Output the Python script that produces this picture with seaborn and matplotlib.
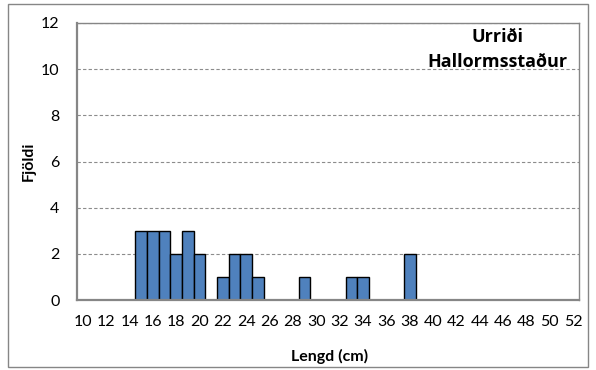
"""
Lengdardreifing urriða — Hallormsstaður
"""

import matplotlib.pyplot as plt
import matplotlib.patches as mpatches
import seaborn as sns
import pandas as pd
import numpy as np

# ─── Data ────────────────────────────────────────────────────────────────────
LENGTHS = list(range(10, 53))
COUNT_AT = {15: 3, 16: 3, 17: 3, 18: 2, 19: 3, 20: 2,
            22: 1, 23: 2, 24: 2, 25: 1, 29: 1, 33: 1, 34: 1, 38: 2}
COUNTS = [COUNT_AT.get(l, 0) for l in LENGTHS]
TICK_LABELS = [str(l) if l % 2 == 0 else "" for l in LENGTHS]

BAR_C  = "#4F81BD"
AXIS_C = "#868686"
GRID_C = "#8C8C8C"
TEXT_C = "#000000"

sns.set_style("white")
plt.rcParams["font.family"] = ["Lato", "DejaVu Sans"]

df = pd.DataFrame({"Lengd": [str(l) for l in LENGTHS], "Fjoldi": COUNTS})

fig = plt.figure(figsize=(5.96, 3.70), dpi=100)
fig.patch.set_facecolor("white")
ax = fig.add_axes([77 / 596, 70 / 370, 502 / 596, 277 / 370])

sns.barplot(data=df, x="Lengd", y="Fjoldi", order=df["Lengd"], color=BAR_C,
            width=1.0, saturation=1, edgecolor="black", linewidth=1.0, ax=ax)

ax.set_xlim(-0.5, len(LENGTHS) - 0.5)
ax.set_ylim(0, 12)
ax.set_yticks(np.arange(0, 13, 2))
ax.set_yticks(np.arange(0, 13, 1), minor=True)
ax.set_xticks(range(len(LENGTHS)))
ax.set_xticklabels(TICK_LABELS)
ax.set_xticks(np.arange(-0.5, len(LENGTHS), 1), minor=True)

ax.tick_params(axis="x", which="major", length=0, labelsize=11.5, colors=TEXT_C, pad=11)
ax.tick_params(axis="x", which="minor", length=3.5, color=AXIS_C, direction="out")
ax.tick_params(axis="y", which="major", length=3.5, color=AXIS_C, direction="out",
               labelsize=11.5, labelcolor=TEXT_C, pad=9)
ax.tick_params(axis="y", which="minor", length=3.5, color=AXIS_C, direction="out",
               labelleft=False)

ax.yaxis.grid(True, which="major", color=GRID_C, linestyle=(0, (3, 2)), linewidth=0.8)
ax.set_axisbelow(True)
for side, spine in ax.spines.items():
    spine.set_visible(True)
    spine.set_color(AXIS_C)
    spine.set_linewidth(1.0)
ax.spines["left"].set_linewidth(1.6)
ax.spines["bottom"].set_linewidth(1.6)

ax.set_xlabel("Lengd (cm)", fontsize=11.5, fontweight="bold", color=TEXT_C)
ax.set_ylabel("Fjöldi", fontsize=11.5, fontweight="bold", color=TEXT_C)
ax.xaxis.set_label_coords(0.504, -0.175)
ax.yaxis.set_label_coords(-0.082, 0.5)

ax.text(0.8367, 0.931, "Urriði", transform=ax.transAxes, ha="center",
        va="baseline", fontsize=13, fontweight="bold", color=TEXT_C,
        family=["Open Sans", "DejaVu Sans"])
ax.text(0.8367, 0.841, "Hallormsstaður", transform=ax.transAxes, ha="center",
        va="baseline", fontsize=13, fontweight="bold", color=TEXT_C,
        family=["Open Sans", "DejaVu Sans"])

# outer chart frame
fig.patches.append(mpatches.Rectangle((8 / 596, 3 / 370), 580 / 596, 363 / 370,
                                      transform=fig.transFigure, fill=False,
                                      edgecolor=AXIS_C, linewidth=1.0))

fig.savefig("out.png", dpi=100, facecolor="white")
